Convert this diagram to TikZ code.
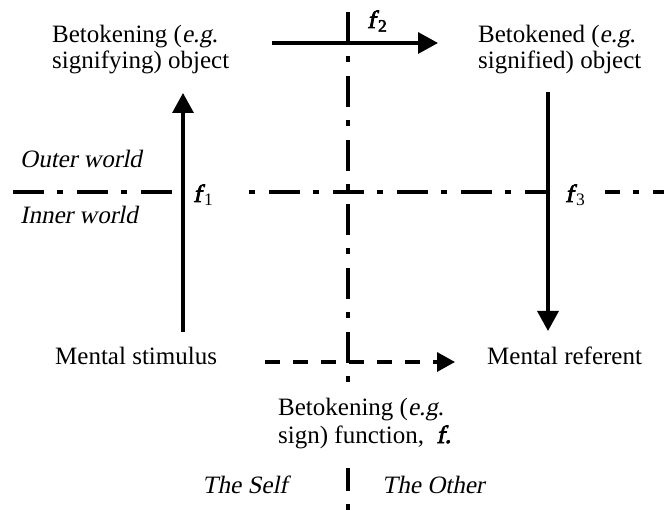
\documentclass[tikz,border=0pt]{standalone}
\usepackage{fontspec}
\setmainfont{Liberation Serif}[ItalicFont={Liberation Serif}, ItalicFeatures={FakeSlant=0.2}, BoldFont={Liberation Serif}, BoldFeatures={FakeBold=3}, BoldItalicFont={Liberation Serif}, BoldItalicFeatures={FakeSlant=0.2,FakeBold=3}]
\usetikzlibrary{arrows.meta}
\newcommand{\bfit}[1]{\textbf{\textit{#1}}}
\begin{document}
\begin{tikzpicture}[x=1pt,y=-1pt,
  txt/.style={font=\fontsize{25}{26}\selectfont, inner sep=0pt, align=left},
  txtb/.style={font=\fontsize{25}{28}\selectfont, inner sep=0pt, align=left},
  itx/.style={font=\fontsize{25}{26}\selectfont\itshape, inner sep=0pt},
  flab/.style={font=\fontsize{25}{26}\selectfont, inner sep=0pt},
  solidarrow/.style={line width=3.3pt, -{Triangle[length=20pt,width=21pt]}},
  dasharrow/.style={line width=3.3pt, dash pattern=on 15pt off 13pt, -{Triangle[length=18pt,width=19pt]}},
  dashdot/.style={line width=3.3pt, dash pattern=on 31pt off 13pt on 6pt off 14pt},
]
\useasboundingbox (0,0) rectangle (664,510);
% nodes
\node[txt, anchor=base west] (sobj) at (52,69) {Betokening (\textit{e.g}.\\signifying) object};
\node[txt, anchor=base west] (dobj) at (478,69) {Betokened (\textit{e.g}.\\signified) object};
\node[txt, anchor=base west] (stim) at (55,365) {Mental stimulus};
\node[txt, anchor=base west] (ref) at (487,365) {Mental referent};
\node[txtb, anchor=base west] (func) at (278,443) {Betokening (\textit{e.g}.\\sign) function,\ \ \bfit{f.}};
\node[itx, anchor=base west] (outer) at (20,168) {Outer world};
\node[itx, anchor=base west] (inner) at (20,224) {Inner world};
\node[itx, anchor=base east] (self) at (288,493) {The Self};
\node[itx, anchor=base west] (other) at (382,493) {The Other};
\node[flab, anchor=base west] (f1) at (193,202) {\bfit{f}\kern2.5pt\textsubscript{1}};
\node[flab, anchor=base west] (f3) at (565,202) {\bfit{f}\kern2.5pt\textsubscript{3}};
\node[flab, anchor=base west] (f2) at (367,28) {\bfit{f}\kern2.5pt\textsubscript{\textbf{2}}};
% axis lines
\coordinate (vt) at (348,12);
\coordinate (vm) at (348,382);
\coordinate (vl) at (348,468);
\coordinate (vb) at (348,512);
\draw[dashdot] (vt) -- (vm);
\draw[dashdot, dash phase=8pt] (vl) -- (vb);
\coordinate (h0) at (13,192);
\coordinate (h1) at (183,192);
\coordinate (h2) at (246,192);
\coordinate (h3) at (547,192);
\coordinate (h4) at (605,192);
\coordinate (h5) at (666,192);
\draw[dashdot] (h0) -- (h1);
\draw[dashdot, dash phase=41pt] (h2) -- (h3);
\draw[dashdot, dash phase=16pt] (h4) -- (h5);
% arrows
\coordinate (a1s) at (183,332);
\coordinate (a1e) at (183,93);
\draw[solidarrow] (a1s) -- (a1e);
\coordinate (a3s) at (548,92);
\coordinate (a3e) at (548,331);
\draw[solidarrow] (a3s) -- (a3e);
\coordinate (a2s) at (272,43);
\coordinate (a2e) at (438,43);
\draw[solidarrow] (a2s) -- (a2e);
\coordinate (a4s) at (265,362);
\coordinate (a4e) at (455,362);
\draw[dasharrow] (a4s) -- (a4e);
\end{tikzpicture}
\end{document}
